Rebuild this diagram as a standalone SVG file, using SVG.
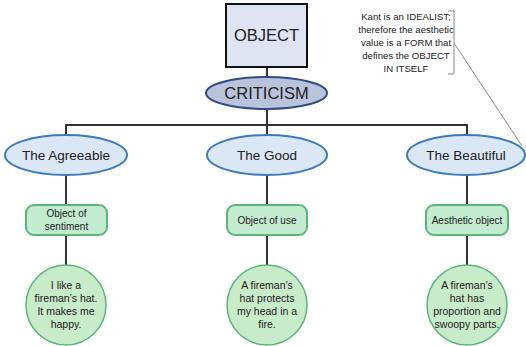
<svg xmlns="http://www.w3.org/2000/svg" width="526" height="346" viewBox="0 0 526 346">
<style>
text{font-family:"Liberation Sans",Arial,sans-serif;fill:#222;text-anchor:middle}
.conn{stroke:#333;stroke-width:2;fill:none}
.blue{fill:#dce7f5;stroke:#3a7bbf;stroke-width:2}
.grect{fill:#c3ebcf;stroke:#5ab57a;stroke-width:2}
.gcirc{fill:#c8ebc9;stroke:#5ab57a;stroke-width:1.5}
.lbl{font-size:13.5px}
.small{font-size:10px}
.circ{font-size:10.5px}
.note{font-size:9.6px}
</style>
<rect width="526" height="346" fill="#fff"/>
<g id="connectors">
<line class="conn" x1="267" y1="67" x2="267" y2="77"/>
<line class="conn" x1="267" y1="109" x2="267" y2="125"/>
<polyline class="conn" points="66,135 66,125 467,125 467,135"/>
<line class="conn" x1="267" y1="125" x2="267" y2="135"/>
<line class="conn" x1="66" y1="175" x2="66" y2="205"/>
<line class="conn" x1="267" y1="175" x2="267" y2="205"/>
<line class="conn" x1="467" y1="175" x2="467" y2="205"/>
<line class="conn" x1="66" y1="235" x2="66" y2="265"/>
<line class="conn" x1="267" y1="235" x2="267" y2="265"/>
<line class="conn" x1="467" y1="235" x2="467" y2="265"/>
<line x1="454" y1="43" x2="522" y2="146" stroke="#888" stroke-width="1"/>
</g>
<g id="object">
<rect x="226" y="4" width="81" height="63" fill="#dfe4f3" stroke="#111" stroke-width="2"/>
<text x="266.5" y="41" font-size="16.5">OBJECT</text>
</g>
<g id="criticism">
<ellipse cx="266.5" cy="93" rx="60.5" ry="16" fill="#b9c3dc" stroke="#2f4d80" stroke-width="2"/>
<text x="266.5" y="99" font-size="16.5">CRITICISM</text>
</g>
<g id="agreeable">
<ellipse class="blue" cx="66" cy="155" rx="61" ry="20"/>
<text class="lbl" x="66" y="160">The Agreeable</text>
</g>
<g id="good">
<ellipse class="blue" cx="267" cy="155" rx="60" ry="20"/>
<text class="lbl" x="267" y="160">The Good</text>
</g>
<g id="beautiful">
<ellipse class="blue" cx="466" cy="155" rx="59" ry="20"/>
<text class="lbl" x="466" y="160">The Beautiful</text>
</g>
<g id="sentiment">
<rect class="grect" x="26" y="205" width="81" height="30" rx="8"/>
<text class="small" x="66.5" y="217">Object of</text>
<text class="small" x="66.5" y="229.5">sentiment</text>
</g>
<g id="use">
<rect class="grect" x="227" y="205" width="80" height="30" rx="8"/>
<text class="small" x="267" y="223.5">Object of use</text>
</g>
<g id="aesthetic">
<rect class="grect" x="426" y="205" width="82" height="30" rx="8"/>
<text class="small" x="467" y="223.5">Aesthetic object</text>
</g>
<g id="happy">
<circle class="gcirc" cx="66" cy="305" r="40"/>
<text class="circ" x="66" y="289">I like a</text>
<text class="circ" x="66" y="302">fireman’s hat.</text>
<text class="circ" x="66" y="315">It makes me</text>
<text class="circ" x="66" y="328">happy.</text>
</g>
<g id="protects">
<circle class="gcirc" cx="267" cy="305" r="40"/>
<text class="circ" x="267" y="289">A fireman’s</text>
<text class="circ" x="267" y="302">hat protects</text>
<text class="circ" x="267" y="315">my head in a</text>
<text class="circ" x="267" y="328">fire.</text>
</g>
<g id="proportion">
<circle class="gcirc" cx="467" cy="305" r="40"/>
<text class="circ" x="467" y="289">A fireman’s</text>
<text class="circ" x="467" y="302">hat has</text>
<text class="circ" x="467" y="315">proportion and</text>
<text class="circ" x="467" y="328">swoopy parts.</text>
</g>
<g id="note">
<polyline points="448,11 454,11 454,74 448,74" fill="none" stroke="#888" stroke-width="1"/>
<text class="note" x="406" y="20">Kant is an IDEALIST;</text>
<text class="note" x="406" y="33">therefore the aesthetic</text>
<text class="note" x="406" y="46">value is a FORM that</text>
<text class="note" x="406" y="59">defines the OBJECT</text>
<text class="note" x="406" y="72">IN ITSELF</text>
</g>
</svg>
